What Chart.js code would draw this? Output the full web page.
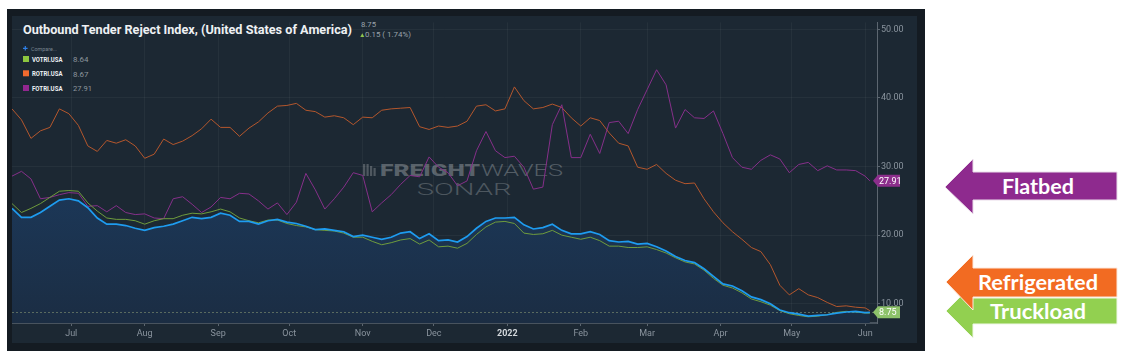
<!DOCTYPE html>
<html>
<head>
<meta charset="utf-8">
<title>Outbound Tender Reject Index</title>
<script src="https://cdn.jsdelivr.net/npm/chart.js@4.4.1/dist/chart.umd.min.js"></script>
<style>
    html, body { margin: 0; padding: 0; background: #ffffff; width: 1130px; height: 359px; overflow: hidden; }
    #frame { position: absolute; left: 7px; top: 9px; width: 918px; height: 342px; background: #141b22; }
    #panel { position: absolute; left: 12px; top: 16px; width: 905px; height: 327px; background: #1c2833; }
    #overlay { position: absolute; left: 0; top: 0; }
    #chartBox { position: absolute; left: 12px; top: 16px; width: 905px; height: 327px; }
    svg text { font-family: Roboto, sans-serif; }
    .arrowText { font-family: Lato, "Open Sans", sans-serif !important; font-weight: 700; font-size: 21.5px; fill: #ffffff; }
</style>
</head>
<body>
<div id="frame"></div>
<div id="panel"></div>

<svg id="overlay" width="1130" height="359">
    <!-- title -->
    <text x="23" y="33.5" font-size="13.5" font-weight="700" fill="#eef1f3" textLength="329" lengthAdjust="spacingAndGlyphs">Outbound Tender Reject Index, (United States of America)</text>
    <text x="361" y="27.3" font-size="7.5" fill="#9aa3ab" textLength="15" lengthAdjust="spacingAndGlyphs">8.75</text>
    <path d="M360.3 37 L362.3 33.2 L364.3 37 Z" fill="#8bc34a"/>
    <text x="365" y="37" font-size="7.5" fill="#9aa3ab" textLength="46" lengthAdjust="spacingAndGlyphs">0.15 ( 1.74%)</text>

    <!-- legend -->
    <path d="M23 48.3h4.6M25.3 46v4.6" stroke="#2f80e8" stroke-width="1.2"/>
    <text x="31" y="50.5" font-size="5.5" fill="#7b8690" textLength="26" lengthAdjust="spacingAndGlyphs">Compare...</text>
    <rect x="23" y="56" width="6" height="6" fill="#8dc63f"/>
    <text x="32" y="61.8" font-size="6.5" font-weight="700" fill="#eef1f3" textLength="30.5" lengthAdjust="spacingAndGlyphs">VOTRI.USA</text>
    <text x="73" y="62.3" font-size="8" fill="#8d969e" textLength="15.5" lengthAdjust="spacingAndGlyphs">8.64</text>
    <rect x="23" y="70.3" width="6" height="6" fill="#f26a2e"/>
    <text x="32" y="76" font-size="6.5" font-weight="700" fill="#eef1f3" textLength="30.5" lengthAdjust="spacingAndGlyphs">ROTRI.USA</text>
    <text x="73" y="76.5" font-size="8" fill="#8d969e" textLength="15.5" lengthAdjust="spacingAndGlyphs">8.67</text>
    <rect x="23" y="85" width="6" height="6" fill="#92278f"/>
    <text x="32" y="90.5" font-size="6.5" font-weight="700" fill="#eef1f3" textLength="30.5" lengthAdjust="spacingAndGlyphs">FOTRI.USA</text>
    <text x="73" y="91" font-size="8" fill="#8d969e" textLength="19" lengthAdjust="spacingAndGlyphs">27.91</text>

    <!-- watermark -->
    <g fill="#4f5860">
        <rect x="363" y="164" width="2.2" height="12"/>
        <rect x="366.5" y="164" width="2.2" height="12"/>
        <rect x="370" y="166" width="2.2" height="10"/>
        <rect x="373.5" y="168" width="2.2" height="8"/>
    </g>
    <text x="380" y="175.7" font-size="16" font-weight="900" fill="#59626a" textLength="100" lengthAdjust="spacingAndGlyphs">FREIGHT</text>
    <text x="481" y="175.7" font-size="16" font-weight="300" fill="#535d65" textLength="82" lengthAdjust="spacingAndGlyphs">WAVES</text>
    <text x="416.7" y="195" font-size="16.5" font-weight="300" fill="#4d575f" textLength="95" lengthAdjust="spacingAndGlyphs">SONAR</text>

    <!-- zoom control -->
    <rect x="437" y="296" width="35" height="11.5" rx="1.5" fill="#243140"/>
    <path d="M442 301.8h6.5M460 301.8h6.5M463.25 298.6v6.4" stroke="#d6dbdf" stroke-width="1.5"/>

    <!-- side arrows -->
    <polygon points="945,187 973,159 973,172 1117,172 1117,200 973,200 973,214" fill="#8e2a8e" stroke="#eadcea" stroke-width="1"/>
    <text class="arrowText" x="1038" y="193.5" text-anchor="middle" textLength="72" lengthAdjust="spacingAndGlyphs">Flatbed</text>
    <polygon points="946,311 973,284 973,298 1117,298 1117,324 973,324 973,338" fill="#92d050" stroke="#f0f8e8" stroke-width="1"/>
    <text class="arrowText" x="1038" y="318.5" text-anchor="middle" textLength="96" lengthAdjust="spacingAndGlyphs">Truckload</text>
    <polygon points="946,282 973,255 973,268 1117,268 1117,297 973,297 973,310" fill="#f26b22" stroke="#fde9dc" stroke-width="1"/>
    <text class="arrowText" x="1038" y="290" text-anchor="middle" textLength="120" lengthAdjust="spacingAndGlyphs">Refrigerated</text>
</svg>

<div id="chartBox"><canvas id="tenderChart"></canvas></div>

<script>
// sample dates (every 4 days)
const dates = [
    '2021-06-06', '2021-06-10', '2021-06-14', '2021-06-18', '2021-06-22', '2021-06-26', '2021-06-30', '2021-07-04',
    '2021-07-08', '2021-07-12', '2021-07-16', '2021-07-20', '2021-07-24', '2021-07-28', '2021-08-01', '2021-08-05',
    '2021-08-09', '2021-08-13', '2021-08-17', '2021-08-21', '2021-08-25', '2021-08-29', '2021-09-02', '2021-09-06',
    '2021-09-10', '2021-09-14', '2021-09-18', '2021-09-22', '2021-09-26', '2021-09-30', '2021-10-04', '2021-10-08',
    '2021-10-12', '2021-10-16', '2021-10-20', '2021-10-24', '2021-10-28', '2021-11-01', '2021-11-05', '2021-11-09',
    '2021-11-13', '2021-11-17', '2021-11-21', '2021-11-25', '2021-11-29', '2021-12-03',
    '2021-12-07', '2021-12-11', '2021-12-15', '2021-12-19', '2021-12-23', '2021-12-27', '2021-12-31', '2022-01-04',
    '2022-01-08', '2022-01-12', '2022-01-16', '2022-01-20', '2022-01-24', '2022-01-28', '2022-02-01', '2022-02-05',
    '2022-02-09', '2022-02-13', '2022-02-17', '2022-02-21', '2022-02-25', '2022-03-01', '2022-03-05',
    '2022-03-09', '2022-03-13', '2022-03-17', '2022-03-21', '2022-03-25', '2022-03-29', '2022-04-02', '2022-04-06',
    '2022-04-10', '2022-04-14', '2022-04-18', '2022-04-22', '2022-04-26', '2022-04-30', '2022-05-04', '2022-05-08',
    '2022-05-12', '2022-05-16', '2022-05-20', '2022-05-24', '2022-05-28', '2022-06-01', '2022-06-03'
];

// OTRI.USA (main series, blue with area)
const otri = [
    23.9, 22.6, 22.6, 23.3, 24.2, 25.1, 25.3, 25.0, 24.0, 22.5, 21.6, 21.6, 21.4, 21.0, 20.7, 21.1, 21.3, 21.6, 22.1, 22.6, 22.4, 22.6, 23.2, 22.9,
    22.0, 22.0, 21.6, 22.1, 22.3, 21.9, 21.7, 21.3, 20.8, 20.9, 20.7, 20.5, 19.8, 20.0, 19.7, 19.4, 19.7, 20.3, 20.5, 19.5, 20.2, 19.2,
    19.3, 19.0, 19.8, 21.0, 22.0, 22.5, 22.5, 22.6, 21.5, 20.9, 21.1, 21.6, 20.7, 20.2, 20.2, 20.5, 20.1, 19.2, 19.0, 19.1, 18.7, 18.8, 18.3,
    17.7, 16.9, 16.3, 16.0, 15.1, 14.0, 12.9, 12.6, 11.9, 11.0, 10.6, 10.0, 9.1, 8.7, 8.5, 8.2, 8.3, 8.4, 8.65, 8.8, 8.9, 8.7, 8.75
];
// VOTRI.USA (van, green)
const votri = [
    24.6, 23.3, 23.9, 24.6, 25.5, 26.4, 26.5, 26.4, 24.7, 23.5, 22.5, 22.3, 22.3, 22.1, 21.6, 22.1, 22.4, 22.4, 22.9, 23.2, 23.1, 23.4, 23.8, 23.4,
    22.5, 22.1, 21.8, 22.2, 22.2, 21.7, 21.4, 21.2, 20.8, 20.7, 20.6, 20.3, 19.7, 19.7, 19.1, 18.6, 18.9, 19.3, 19.5, 18.7, 19.3, 18.3,
    18.4, 18.1, 18.8, 20.1, 21.2, 21.9, 22.0, 21.7, 20.3, 20.1, 20.2, 20.7, 20.0, 19.7, 19.4, 19.7, 19.2, 18.4, 18.4, 18.2, 18.2, 18.3, 17.9,
    17.4, 16.7, 16.1, 15.8, 14.9, 13.7, 12.7, 12.3, 11.6, 10.7, 10.3, 9.8, 9.0, 8.55, 8.3, 8.1, 8.2, 8.4, 8.75, 8.9, 8.8, 8.65, 8.64
];
// ROTRI.USA (reefer, orange)
const rotri = [
    38.4, 36.8, 34.1, 35.2, 35.7, 38.4, 37.7, 36.0, 33.0, 32.2, 33.8, 33.4, 33.9, 33.0, 31.2, 31.8, 34.0, 33.2, 33.7, 34.5, 35.5, 36.9, 35.7, 35.7,
    34.4, 35.6, 36.5, 37.8, 38.8, 38.9, 39.2, 38.2, 38.0, 37.2, 37.4, 37.1, 36.1, 37.2, 37.1, 38.2, 38.4, 38.5, 38.6, 35.8, 35.4, 35.9,
    35.7, 35.9, 36.6, 38.8, 39.0, 38.1, 38.4, 41.6, 39.6, 38.4, 38.6, 39.1, 38.6, 37.1, 35.9, 37.1, 36.7, 34.9, 33.4, 33.0, 29.9, 29.6, 30.3,
    29.0, 28.0, 27.5, 27.6, 25.3, 23.4, 21.8, 20.5, 19.4, 18.2, 17.6, 15.7, 12.7, 11.3, 12.2, 11.3, 10.9, 10.2, 9.6, 9.7, 9.5, 9.4, 9.0
];
// FOTRI.USA (flatbed, purple)
const fotri = [
    28.6, 29.3, 28.2, 25.3, 25.5, 25.9, 26.2, 26.1, 24.2, 24.3, 23.4, 24.3, 23.3, 23.0, 23.1, 22.5, 22.4, 25.3, 25.6, 24.5, 23.3, 24.1, 25.5, 25.3,
    26.1, 26.0, 25.0, 23.8, 24.7, 23.0, 24.8, 29.0, 26.6, 23.8, 25.3, 27.0, 29.1, 28.7, 23.4, 24.7, 25.9, 27.4, 28.7, 28.5, 31.4, 29.9,
    29.1, 27.2, 27.9, 32.3, 35.1, 32.3, 31.3, 31.5, 29.9, 26.7, 27.0, 36.1, 39.0, 31.3, 31.3, 34.7, 31.9, 36.4, 36.6, 34.8, 38.3, 41.2, 44.1,
    41.9, 35.6, 38.3, 37.1, 37.0, 38.1, 34.8, 31.3, 29.9, 29.6, 30.9, 31.7, 31.1, 29.1, 30.3, 30.6, 29.4, 30.1, 29.5, 29.5, 29.4, 28.6, 27.91
];

const xTickDates = ['2021-07-01', '2021-08-01', '2021-09-01', '2021-10-01', '2021-11-01', '2021-12-01',
    '2022-01-01', '2022-02-01', '2022-03-01', '2022-04-01', '2022-05-01', '2022-06-01'];
const xTickLabels = ['Jul', 'Aug', 'Sep', 'Oct', 'Nov', 'Dec', '2022', 'Feb', 'Mar', 'Apr', 'May', 'Jun'];
const yTickValues = [10, 20, 30, 40, 50];
const viewStart = '2021-06-06';
const viewEnd = '2022-06-06';

function dayNumber(s) {
    return Date.UTC(+s.slice(0, 4), +s.slice(5, 7) - 1, +s.slice(8, 10)) / 86400000;
}

function toPoints(values) {
    return values.map((v, i) => ({ x: dayNumber(dates[i]), y: v }));
}

// dotted current-value line + last value tags on the right axis
const lastValueTags = {
    id: 'lastValueTags',
    beforeDatasetsDraw(chart) {
        const { ctx, chartArea, scales: { y } } = chart;
        const py = Math.round(y.getPixelForValue(otri[otri.length - 1])) + 0.5;
        ctx.save();
        ctx.setLineDash([2, 2]);
        ctx.strokeStyle = '#5a6b60';
        ctx.lineWidth = 1;
        ctx.beginPath();
        ctx.moveTo(chartArea.left, py);
        ctx.lineTo(chartArea.right, py);
        ctx.stroke();
        ctx.restore();
    },
    afterDraw(chart) {
        const { ctx, chartArea, scales: { y } } = chart;
        const tag = (value, color) => {
            const py = y.getPixelForValue(value);
            const x0 = chartArea.right - 4;
            ctx.save();
            ctx.fillStyle = color;
            ctx.beginPath();
            ctx.moveTo(x0, py);
            ctx.lineTo(x0 + 5, py - 6);
            ctx.lineTo(x0 + 27, py - 6);
            ctx.lineTo(x0 + 27, py + 6);
            ctx.lineTo(x0 + 5, py + 6);
            ctx.closePath();
            ctx.fill();
            ctx.fillStyle = '#ffffff';
            ctx.font = '9px Roboto';
            ctx.textBaseline = 'middle';
            ctx.fillText(value.toFixed(2), x0 + 6, py + 0.5);
            ctx.restore();
        };
        tag(fotri[fotri.length - 1], '#8c2e8c');
        tag(otri[otri.length - 1], '#8dc26a');
    }
};

Chart.defaults.font.family = 'Roboto';

const ctx = document.getElementById('tenderChart').getContext('2d');
new Chart(ctx, {
    type: 'line',
    data: {
        datasets: [{
            label: 'OTRI.USA',
            data: toPoints(otri),
            borderColor: '#1e9cf0',
            borderWidth: 1.7,
            fill: 'start',
            backgroundColor: (c) => {
                const area = c.chart.chartArea;
                if (!area) return 'rgba(0,0,0,0)';
                const g = c.chart.ctx.createLinearGradient(0, area.top + 110, 0, area.bottom);
                g.addColorStop(0, '#1c3c61');
                g.addColorStop(1, '#1b2d43');
                return g;
            },
            order: 0
        }, {
            label: 'VOTRI.USA',
            data: toPoints(votri),
            borderColor: '#6f9c3d',
            borderWidth: 1,
            order: 1
        }, {
            label: 'FOTRI.USA',
            data: toPoints(fotri),
            borderColor: '#86308a',
            borderWidth: 1,
            order: 2
        }, {
            label: 'ROTRI.USA',
            data: toPoints(rotri),
            borderColor: '#b4572d',
            borderWidth: 1,
            order: 3
        }]
    },
    options: {
        responsive: true,
        maintainAspectRatio: false,
        animation: false,
        layout: { padding: { top: 4, left: 0, right: 0, bottom: 0 } },
        elements: {
            point: { radius: 0 },
            line: { tension: 0 }
        },
        plugins: {
            legend: { display: false },
            tooltip: { enabled: false },
            filler: { drawTime: 'beforeDatasetsDraw' }
        },
        scales: {
            x: {
                type: 'linear',
                min: dayNumber(viewStart),
                max: dayNumber(viewEnd),
                afterBuildTicks: (scale) => {
                    scale.ticks = xTickDates.map(d => ({ value: dayNumber(d) }));
                },
                afterFit: (scale) => { scale.height = 20; },
                ticks: {
                    autoSkip: false,
                    maxRotation: 0,
                    padding: 2,
                    callback: (value, index) => xTickLabels[index],
                    color: (c) => (c.tick && xTickLabels[c.index] === '2022') ? '#d2d7db' : '#8a949e',
                    font: (c) => (c.tick && xTickLabels[c.index] === '2022') ? { size: 9, weight: 'bold' } : { size: 9 }
                },
                grid: {
                    color: 'rgba(255,255,255,0.045)',
                    tickColor: '#5c6670',
                    tickLength: 3
                },
                border: { display: true, color: '#48535e', width: 2 }
            },
            y: {
                position: 'right',
                min: 7.2,
                max: 51,
                afterBuildTicks: (scale) => {
                    scale.ticks = yTickValues.map(v => ({ value: v }));
                },
                afterFit: (scale) => { scale.width = 40; },
                ticks: {
                    padding: 1,
                    color: '#8a949e',
                    font: { size: 9 },
                    callback: (value) => value.toFixed(2)
                },
                grid: {
                    color: 'rgba(255,255,255,0.045)',
                    tickColor: '#5c6670',
                    tickLength: 3
                },
                border: { display: true, color: '#5c6670', width: 1 }
            }
        }
    },
    plugins: [lastValueTags]
});
</script>
</body>
</html>
